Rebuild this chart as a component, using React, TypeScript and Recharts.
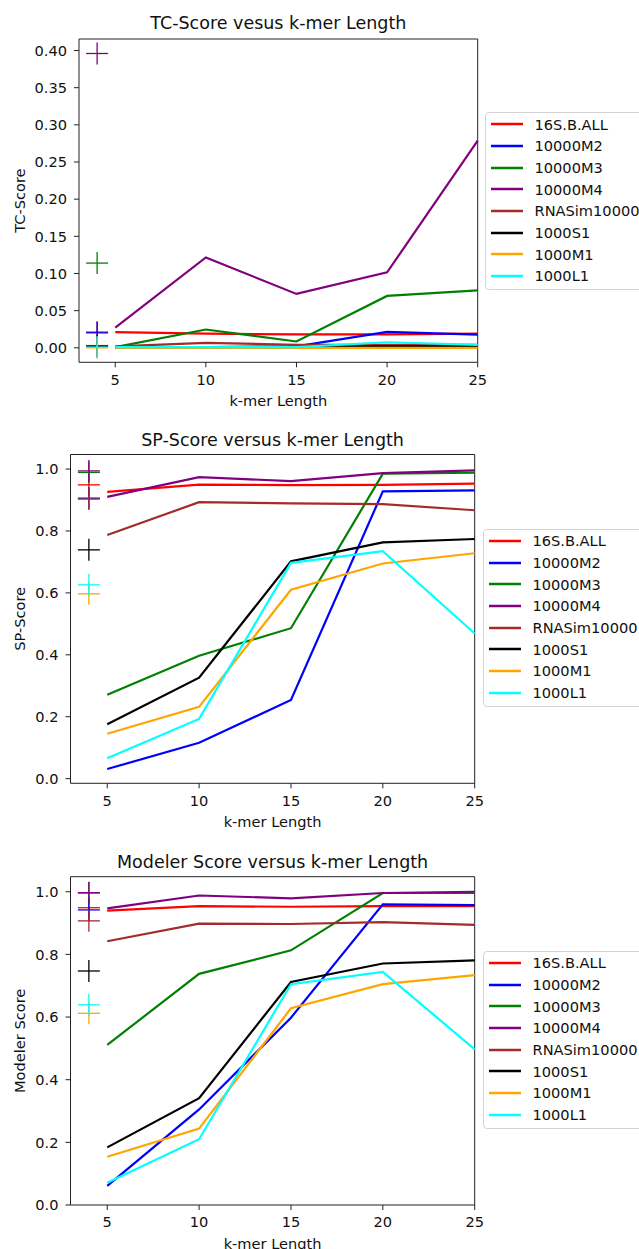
import { ComposedChart, Line, Scatter, XAxis, YAxis, Legend, ReferenceArea, Label } from 'recharts';

const kmerLengths = [5, 10, 15, 20, 25];
const markerK = 4;

const datasetNames = ['16S.B.ALL', '10000M2', '10000M3', '10000M4', 'RNASim10000', '1000S1', '1000M1', '1000L1'];
const datasetColors = ['#ff0000', '#0000ff', '#008000', '#800080', '#a52a2a', '#000000', '#ffa500', '#00ffff'];

// rows follow datasetNames, columns follow kmerLengths
const tcScores = [
    [0.021, 0.019, 0.018, 0.018, 0.019],
    [0.001, 0.001, 0.002, 0.0215, 0.0178],
    [0.001, 0.0246, 0.0085, 0.0698, 0.0773],
    [0.027, 0.1216, 0.0725, 0.1015, 0.2787],
    [0.002, 0.0067, 0.004, 0.004, 0.004],
    [0.0, 0.001, 0.001, 0.002, 0.002],
    [0.0, 0.0, 0.0, 0.0, 0.0],
    [0.001, 0.001, 0.001, 0.0075, 0.004],
];
const tcMarks = [0.02, 0.021, 0.114, 0.396, 0.003, 0.002, 0.0, 0.001];

const spScores = [
    [0.926, 0.95, 0.948, 0.949, 0.953],
    [0.031, 0.116, 0.254, 0.928, 0.931],
    [0.271, 0.397, 0.486, 0.985, 0.988],
    [0.91, 0.974, 0.961, 0.987, 0.996],
    [0.787, 0.893, 0.889, 0.887, 0.867],
    [0.176, 0.326, 0.702, 0.763, 0.774],
    [0.145, 0.232, 0.61, 0.695, 0.728],
    [0.066, 0.193, 0.697, 0.735, 0.469],
];
const spMarks = [0.949, 0.906, 0.989, 0.994, 0.903, 0.739, 0.597, 0.626];

const modelerScores = [
    [0.94, 0.954, 0.952, 0.954, 0.954],
    [0.061, 0.305, 0.598, 0.96, 0.957],
    [0.511, 0.738, 0.813, 0.996, 0.996],
    [0.947, 0.988, 0.979, 0.996, 1.0],
    [0.842, 0.898, 0.897, 0.903, 0.894],
    [0.184, 0.341, 0.712, 0.771, 0.781],
    [0.154, 0.244, 0.628, 0.705, 0.734],
    [0.071, 0.21, 0.705, 0.744, 0.497],
];
const modelerMarks = [0.949, 0.942, 0.996, 0.997, 0.907, 0.747, 0.612, 0.639];

const tcTicks = [0, 0.05, 0.1, 0.15, 0.2, 0.25, 0.3, 0.35, 0.4];
const scoreTicks = [0, 0.2, 0.4, 0.6, 0.8, 1.0];

const FONT = '"DejaVu Sans", sans-serif';
const FS = 14.6;
const CHART_W = 639;

const crossShape = (props: any) => {
    const { cx, cy, payload } = props;
    const h = 11;
    return (
        <g stroke={payload.color} strokeWidth={1.3}>
            <line x1={cx - h} y1={cy} x2={cx + h} y2={cy} />
            <line x1={cx} y1={cy - h} x2={cx} y2={cy + h} />
        </g>
    );
};

// legend keeps the plotting order of the datasets
const renderLegend = () => (
    <div style={{
        border: '1px solid #d4d4d4', borderRadius: 4, background: 'rgba(255,255,255,0.8)',
        padding: '0 40px 2px 5px', fontFamily: FONT, fontSize: FS, color: '#111', whiteSpace: 'nowrap',
    }}>
        {datasetNames.map((name, i) => (
            <div key={name} style={{ display: 'flex', alignItems: 'center', height: 21.7 }}>
                <svg width={32} height={6}>
                    <line x1={0} y1={3} x2={32} y2={3} stroke={datasetColors[i]} strokeWidth={2.5} />
                </svg>
                <span style={{ marginLeft: 11.5 }}>{name}</span>
            </div>
        ))}
    </div>
);

interface PanelProps {
    title: string;
    yLabel: string;
    scores: number[][];
    marks: number[];
    yDomain: [number, number];
    yTicks: number[];
    digits: number;
    top: number;
    height: number;
    margin: { top: number; right: number; bottom: number; left: number };
    yAxisWidth: number;
    titleY: number;
    legendLeft: number;
    legendTop: number;
}

function ScorePanel(p: PanelProps) {
    const plotLeft = p.margin.left + p.yAxisWidth;
    const plotWidth = CHART_W - plotLeft - p.margin.right;
    const markData = p.marks.map((v, i) => ({ k: markerK, v, color: datasetColors[i] }));

    return (
        <div style={{ position: 'absolute', left: 0, top: p.top, width: CHART_W, height: p.height }}>
            <div style={{
                position: 'absolute', left: plotLeft, width: plotWidth, top: p.titleY - 11, height: 22,
                lineHeight: '22px', textAlign: 'center', fontSize: 17.5, color: '#111', zIndex: 2,
            }}>{p.title}</div>
            <ComposedChart width={CHART_W} height={p.height} margin={p.margin}>
                <XAxis
                    type="number" dataKey="k" domain={[3, 25]} ticks={kmerLengths} height={30}
                    axisLine={false} tickSize={5} tickMargin={7}
                    tickLine={{ stroke: '#222' }}
                    tick={{ fontSize: FS, fill: '#111', fontFamily: FONT }}
                >
                    <Label content={(lp: any) => {
                        const vb = lp.viewBox;
                        return (
                            <text x={vb.x + vb.width / 2} y={vb.y + 38} textAnchor="middle" dominantBaseline="central"
                                fontSize={FS} fill="#111" fontFamily={FONT}>k-mer Length</text>
                        );
                    }} />
                </XAxis>
                <YAxis
                    type="number" domain={p.yDomain} ticks={p.yTicks} width={p.yAxisWidth}
                    axisLine={false} tickSize={5} tickMargin={7}
                    tickLine={{ stroke: '#222' }}
                    tick={{ fontSize: FS, fill: '#111', fontFamily: FONT }}
                    tickFormatter={(v: number) => v.toFixed(p.digits)}
                >
                    <Label content={(lp: any) => {
                        const vb = lp.viewBox;
                        const cx = vb.x + 20;
                        const cy = vb.y + vb.height / 2;
                        return (
                            <text x={cx} y={cy} transform={`rotate(-90 ${cx} ${cy})`} textAnchor="middle"
                                dominantBaseline="central" fontSize={FS} fill="#111" fontFamily={FONT}>{p.yLabel}</text>
                        );
                    }} />
                </YAxis>
                <ReferenceArea x1={3} x2={25} y1={p.yDomain[0]} y2={p.yDomain[1]} fill="none" stroke="#222" strokeWidth={1} ifOverflow="visible" />
                {datasetNames.map((name, i) => (
                    <Line
                        key={name}
                        name={name}
                        data={kmerLengths.map((k, j) => ({ k, v: p.scores[i][j] }))}
                        dataKey="v"
                        stroke={datasetColors[i]}
                        strokeWidth={2.2}
                        dot={false}
                        activeDot={false}
                        isAnimationActive={false}
                    />
                ))}
                <Scatter data={markData} dataKey="v" shape={crossShape} legendType="none" isAnimationActive={false} />
                <Legend
                    layout="vertical" align="center" verticalAlign="middle"
                    wrapperStyle={{ left: p.legendLeft, top: p.legendTop, width: 'auto', height: 'auto' }}
                    content={renderLegend}
                />
            </ComposedChart>
        </div>
    );
}

export default function App() {
    return (
        <div style={{
            position: 'absolute', left: 0, top: 0, width: CHART_W, height: 1249, overflow: 'hidden',
            background: '#fff', fontFamily: FONT,
        }}>
            <ScorePanel
                title="TC-Score vesus k-mer Length" yLabel="TC-Score"
                scores={tcScores} marks={tcMarks}
                yDomain={[-0.0195, 0.4155]} yTicks={tcTicks} digits={2}
                top={0} height={420}
                margin={{ top: 39, right: 161.3, bottom: 27.7, left: 0 }} yAxisWidth={79}
                titleY={23.3} legendLeft={485} legendTop={112.3}
            />
            <ScorePanel
                title="SP-Score versus k-mer Length" yLabel="SP-Score"
                scores={spScores} marks={spMarks}
                yDomain={[-0.015, 1.047]} yTicks={scoreTicks} digits={1}
                top={420} height={420}
                margin={{ top: 34.5, right: 164.3, bottom: 26.7, left: 0 }} yAxisWidth={70.5}
                titleY={20} legendLeft={483} legendTop={109}
            />
            <ScorePanel
                title="Modeler Score versus k-mer Length" yLabel="Modeler Score"
                scores={modelerScores} marks={modelerMarks}
                yDomain={[0, 1.048]} yTicks={scoreTicks} digits={1}
                top={840} height={409}
                margin={{ top: 36.7, right: 164.3, bottom: 14, left: 0 }} yAxisWidth={70.5}
                titleY={22.3} legendLeft={483} legendTop={111}
            />
        </div>
    );
}
